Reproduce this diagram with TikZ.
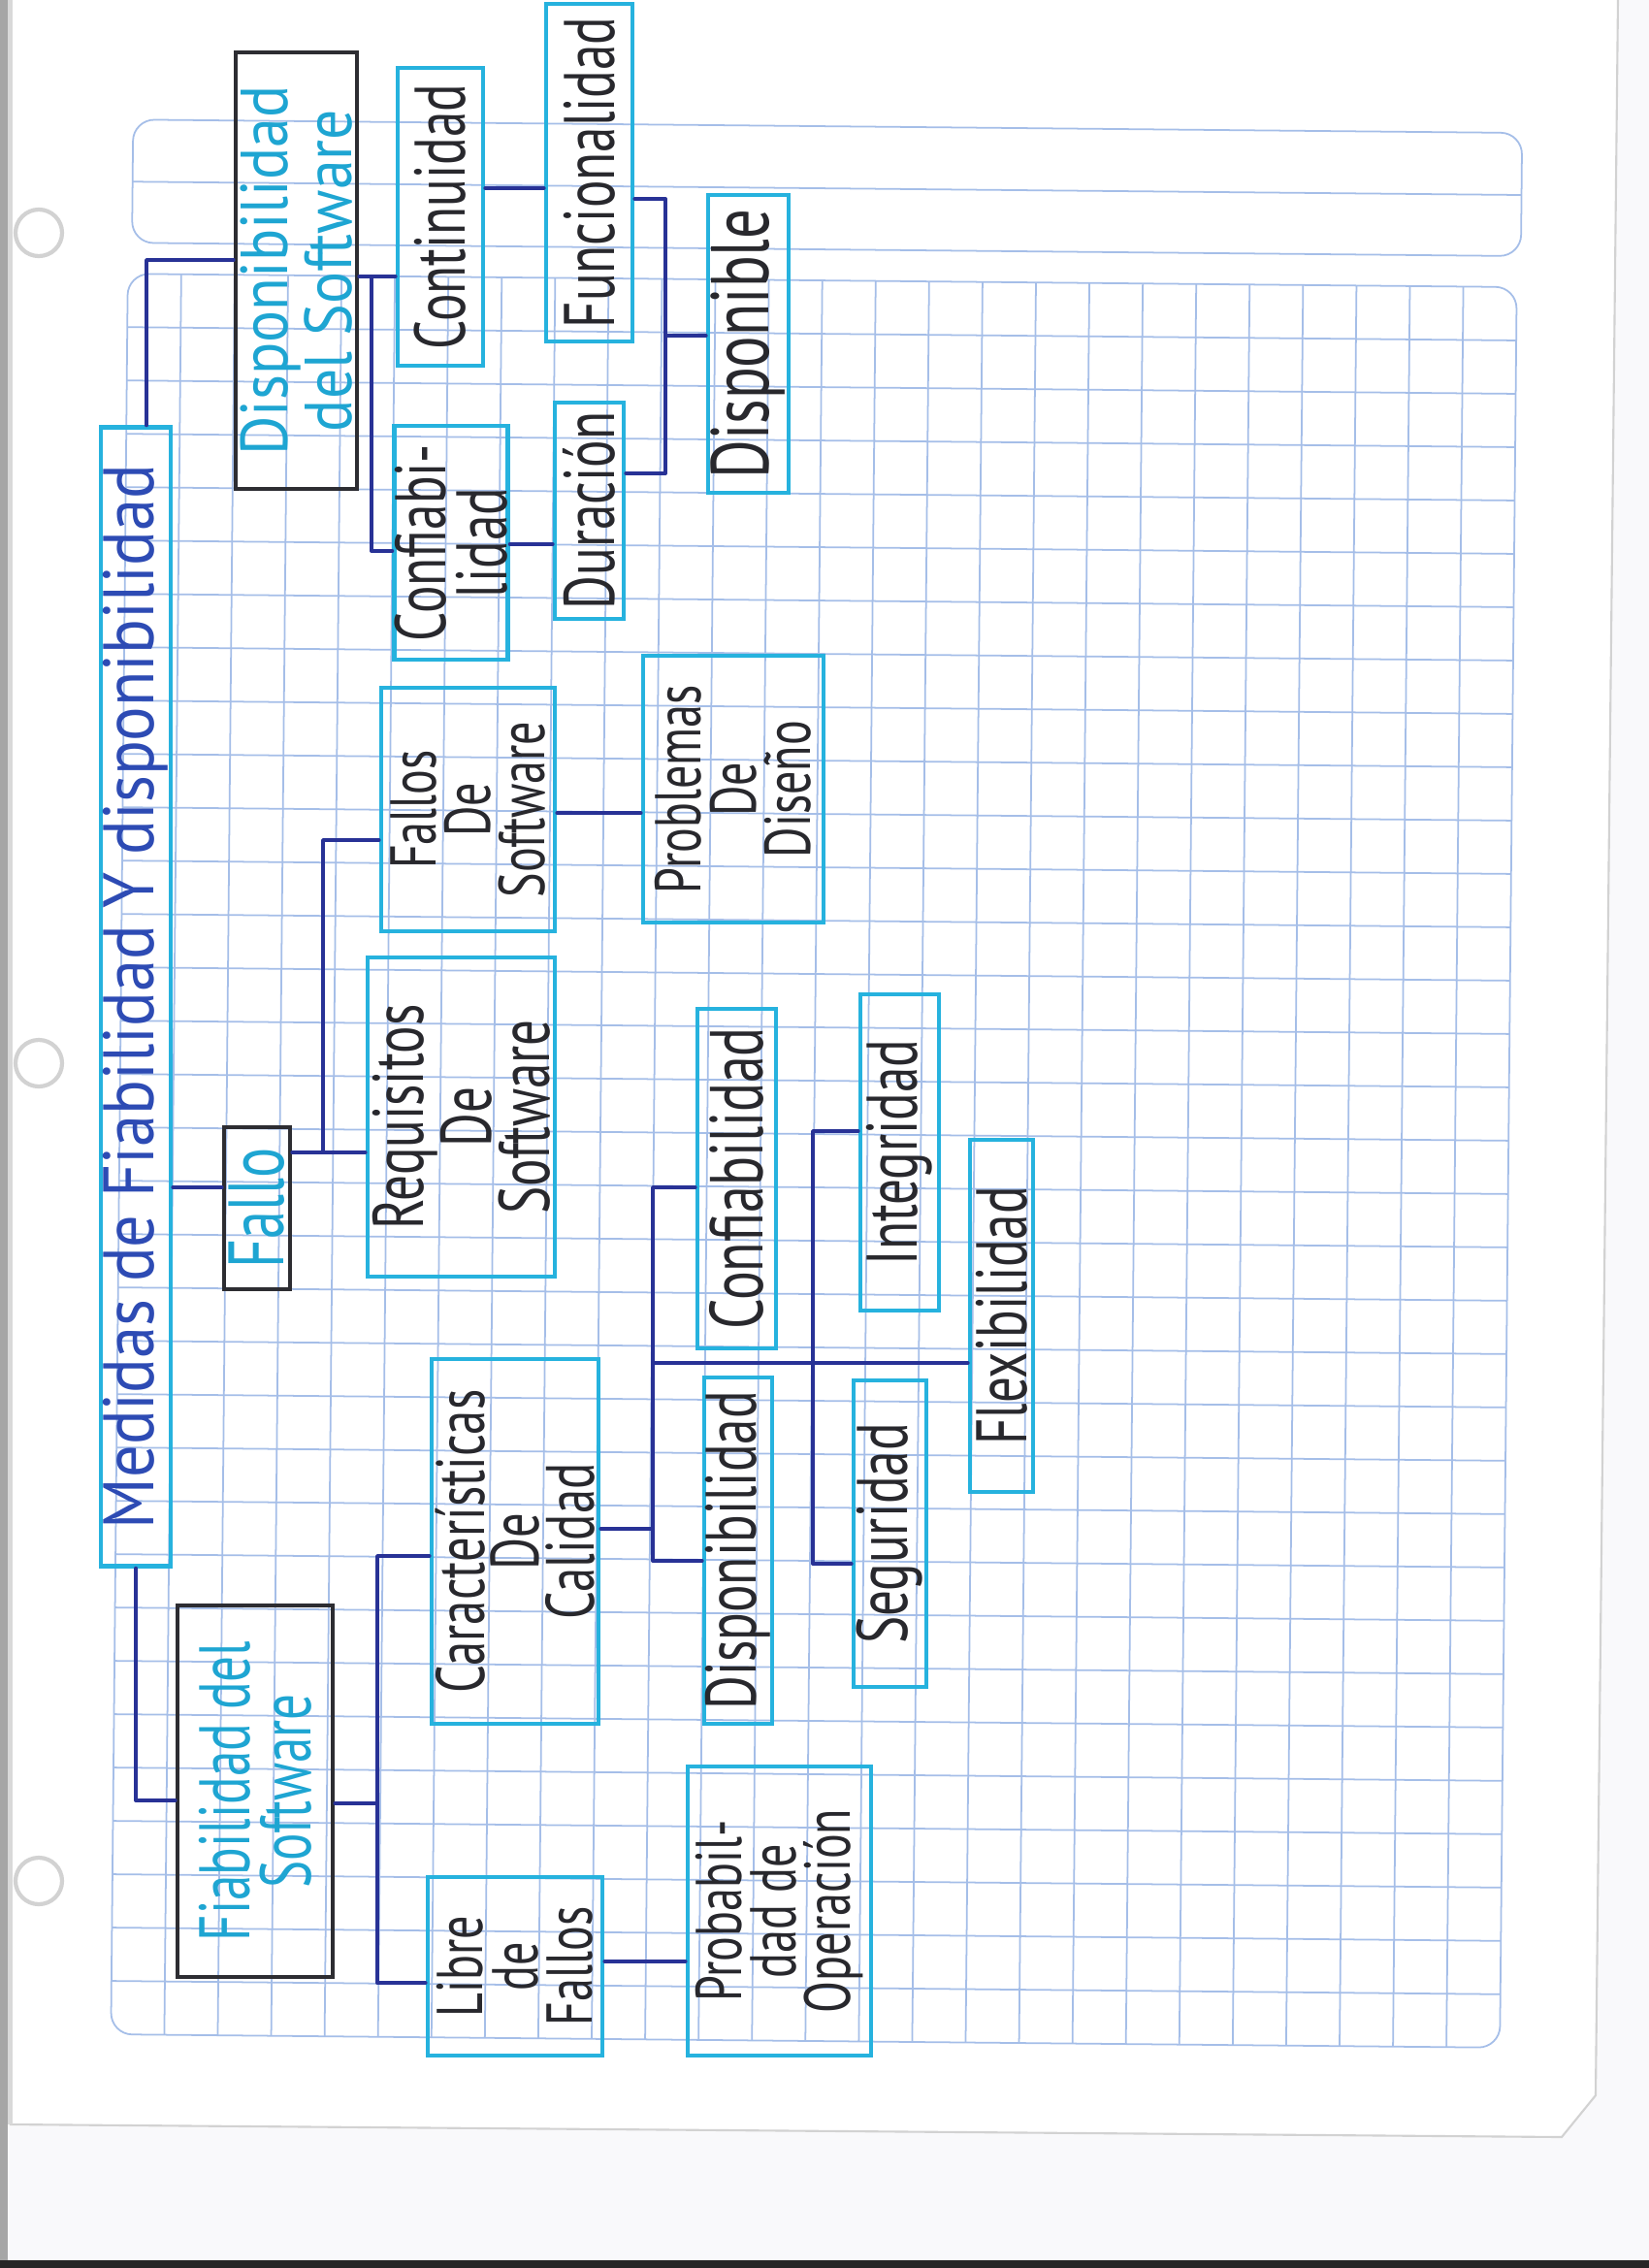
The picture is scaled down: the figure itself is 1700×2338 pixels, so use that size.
\documentclass[tikz,border=0pt]{standalone}
\usepackage{fontspec}
\newfontfamily\hand[FakeStretch=0.72]{PT Sans}
\newfontfamily\handwide[FakeStretch=0.9]{PT Sans}
\definecolor{boxcyan}{RGB}{38,178,222}
\definecolor{ink}{RGB}{40,40,45}
\definecolor{cyanink}{RGB}{30,165,210}
\definecolor{titleink}{RGB}{45,75,180}
\definecolor{linkblue}{RGB}{40,50,150}
\definecolor{pencil}{RGB}{45,45,50}
\definecolor{gridc}{RGB}{165,190,232}
\definecolor{under}{RGB}{249,249,251}
\begin{document}
\begin{tikzpicture}[x=0.01cm,y=-0.01cm,
  box/.style={draw=boxcyan,line width=1.3pt,rotate=90,inner sep=0pt,align=center,
    text=ink,font=\hand\fontsize{21}{18}\selectfont},
  darkbox/.style={box,draw=pencil,text=cyanink},
  link/.style={draw=linkblue,line width=1.1pt,line cap=round,line join=round},
  gridline/.style={draw=gridc,line width=0.5pt}]

% page
\useasboundingbox (0,0) rectangle (1700,2338);
\fill[white] (0,0) rectangle (1700,2338);
\fill[under] (10,2190) -- (1610,2203) -- (1645,2160) -- (1668,0) -- (1700,0) -- (1700,2338) -- (0,2338) -- (0,2190) -- cycle;
\draw[gray!35,line width=0.6pt] (10,2190) -- (1610,2203) -- (1645,2160) -- (1668,0);
\fill[gray!70] (0,0) rectangle (8,2338);
\fill[gray!30] (8,0) rectangle (13,2190);
\fill[black!85] (0,2330) rectangle (1700,2338);

% printed grid paper
\begin{scope}[rotate around={-0.55:(839,1196)}]
  \draw[gridline,rounded corners=0.22cm] (127,130) rectangle (1559,257);
  \draw[gridline] (127,194) -- (1559,194);
  \begin{scope}
    \clip[rounded corners=0.22cm] (123,289) rectangle (1555,2104);
    \foreach \i in {1,...,25} \draw[gridline] ({123+\i*55.077},289) -- ({123+\i*55.077},2104);
    \foreach \j in {1,...,32} \draw[gridline] (123,{289+\j*55}) -- (1555,{289+\j*55});
  \end{scope}
  \draw[gridline,rounded corners=0.22cm] (123,289) rectangle (1555,2104);
\end{scope}

% punched holes
\foreach \hy in {240,1096,1939} {
  \fill[white] (40,\hy) circle (24);
  \draw[gray!35,line width=1.2pt] (40,\hy) circle (24);
}

% concept boxes
\node[box,minimum width=11.73cm,minimum height=0.72cm,text=titleink,
  font=\handwide\fontsize{21}{21}\selectfont] (title) at (140,1027.5)
  {Medidas de Fiabilidad Y disponibilidad};
\node[darkbox,minimum width=3.83cm,minimum height=1.60cm] (fiab) at (263,1846.5)
  {Fiabilidad del\\Software};
\node[darkbox,minimum width=4.50cm,minimum height=1.25cm,
  font=\handwide\fontsize{19.5}{17}\selectfont] (disp) at (305.5,279)
  {Disponibilidad\\del Software};
\node[darkbox,minimum width=1.67cm,minimum height=0.68cm,
  font=\hand\fontsize{23}{20}\selectfont] (fallo) at (265,1245.5) {Fallo};
\node[box,minimum width=3.07cm,minimum height=0.88cm] (cont) at (454,223.5) {Continuidad};
\node[box,minimum width=3.48cm,minimum height=0.89cm] (func) at (607.5,178) {Funcionalidad};
\node[box,minimum width=3.07cm,minimum height=0.83cm,
  font=\hand\fontsize{24}{20}\selectfont] (dispon) at (771.5,354.5) {Disponible};
\node[box,minimum width=2.23cm,minimum height=0.71cm] (dur) at (607.5,526.5) {Duración};
\node[box,minimum width=2.41cm,minimum height=1.16cm] (conf1) at (465,559.5) {Confiabi-\\lidad};
\node[box,minimum width=2.51cm,minimum height=1.79cm,
  font=\hand\fontsize{19}{16}\selectfont] (fsw) at (482.5,834.5) {Fallos\\De\\Software};
\node[box,minimum width=2.75cm,minimum height=1.86cm,
  font=\hand\fontsize{19}{16}\selectfont] (prob) at (756,813.5) {Problemas\\De\\Diseño};
\node[box,minimum width=3.29cm,minimum height=1.93cm,
  font=\hand\fontsize{21}{17}\selectfont] (req) at (475.5,1151.5) {Requisitos\\De\\Software};
\node[box,minimum width=3.76cm,minimum height=1.72cm,
  font=\hand\fontsize{20}{16}\selectfont] (carac) at (531,1589) {Características\\De\\Calidad};
\node[box,minimum width=3.50cm,minimum height=0.81cm,
  font=\hand\fontsize{22}{18}\selectfont] (conf2) at (759.5,1215) {Confiabilidad};
\node[box,minimum width=3.26cm,minimum height=0.81cm] (integ) at (927.5,1188) {Integridad};
\node[box,minimum width=3.63cm,minimum height=0.65cm] (flex) at (1032.5,1356.5) {Flexibilidad};
\node[box,minimum width=3.57cm,minimum height=0.70cm] (disp2) at (761,1598.5) {Disponibilidad};
\node[box,minimum width=3.16cm,minimum height=0.75cm] (seg) at (917.5,1581) {Seguridad};
\node[box,minimum width=1.84cm,minimum height=1.80cm,
  font=\hand\fontsize{19}{16}\selectfont] (libre) at (531,2027) {Libre\\de\\Fallos};
\node[box,minimum width=2.98cm,minimum height=1.89cm,
  font=\hand\fontsize{19}{16}\selectfont] (probop) at (803.5,1970) {Probabil-\\dad de\\Operación};

% junction points of the brackets
\coordinate (dj) at (383,285);
\coordinate (uj) at (686,205);
\coordinate (mj) at (686,346);
\coordinate (lj) at (686,488);
\coordinate (fj) at (333,1188);
\coordinate (bj) at (389,1859);
\coordinate (qa) at (673,1576);
\coordinate (qm) at (673,1405);

% title branches
\draw[link] (title.west) |- (fiab.north |- 0,1856);
\draw[link] ([xshift=0.11cm]title.east) |- (disp.north |- 0,268);
\draw[link] (title.south |- 0,1224) -- (fallo.north |- 0,1224);

% availability branch
\draw[link] (disp.south |- dj) -- (cont.north |- dj);
\draw[link] (dj) |- (conf1.north |- 0,568);
\draw[link] (cont.south |- 0,194) -- (func.north |- 0,194);
\draw[link] (conf1.south |- 0,561) -- (dur.north |- 0,561);
\draw[link] (func.south |- uj) -- (uj) -- (lj) -- (dur.south |- lj);
\draw[link] (mj) -- (dispon.north |- mj);

% failure branch
\draw[link] (fallo.south |- fj) -- (req.north |- fj);
\draw[link] (fj) |- (fsw.north |- 0,866);
\draw[link] (fsw.south |- 0,838) -- (prob.north |- 0,838);

% reliability branch
\draw[link] (fiab.south |- bj) -- (bj);
\draw[link] (carac.north |- 0,1604) -| (389,2044) -- (libre.north |- 0,2044);
\draw[link] (libre.south |- 0,2022) -- (probop.north |- 0,2022);

% quality characteristics
\draw[link] (carac.south |- qa) -- (qa);
\draw[link] (conf2.north |- 0,1224) -| (673,1609) -- (disp2.north |- 0,1609);
\draw[link] (qm) -- (flex.north |- qm);
\draw[link] (integ.north |- 0,1166) -| (838,1612) -- (seg.north |- 0,1612);
\end{tikzpicture}
\end{document}
